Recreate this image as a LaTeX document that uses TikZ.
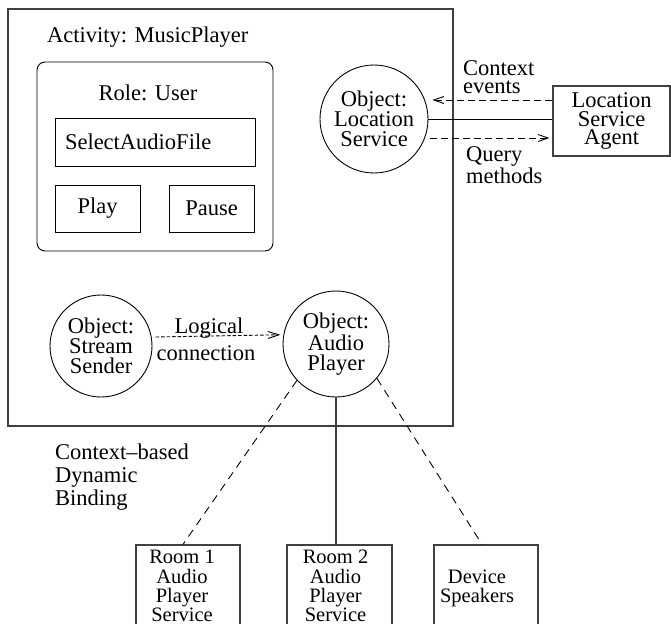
\documentclass[tikz,border=0pt]{standalone}
\usepackage{fontspec}
\setmainfont{Liberation Serif}
\usetikzlibrary{arrows.meta}
\begin{document}
\begin{tikzpicture}[x=1pt,y=-1pt,
  txt/.style={font=\fontsize{22.5}{19}\selectfont, inner sep=0pt},
  roomtxt/.style={font=\fontsize{20.5}{19.3}\selectfont, inner sep=0pt, align=center},
  frame/.style={draw=black!75, line width=1.2pt, inner sep=0pt},
  thinbox/.style={draw, line width=0.9pt, inner sep=0pt},
  obj/.style={draw, circle, line width=0.9pt, inner sep=0pt, align=center,
    font=\fontsize{22.5}{20}\selectfont},
  link/.style={line width=0.9pt},
  barb/.style={-{Straight Barb[length=10pt,width=7pt]}},
  evt/.style={link, dash pattern=on 7pt off 4pt},
  logic/.style={link, dash pattern=on 3.5pt off 2pt},
  bind/.style={link, dash pattern=on 8pt off 6pt},
]
\useasboundingbox (0,0) rectangle (671,623);
\clip (0,0) rectangle (671,623);

% activity frame and its title
\node[frame, minimum width=445pt, minimum height=417pt] (activity) at (230.5,217.5) {};
\node[txt, anchor=base west] (acttitle) at (47,43) {Activity: MusicPlayer};

% role with its operations
\node[thinbox, rounded corners=8pt, minimum width=236pt, minimum height=189pt] (role) at (155,156.5) {};
\node[txt, anchor=base] (roletitle) at (148,100) {Role: User};
\node[thinbox, txt, minimum width=200pt, minimum height=48pt, text width=180pt,
  inner xsep=10pt, align=left] (select) at (155,142) {SelectAudioFile};
\node[thinbox, txt, minimum width=85pt, minimum height=47pt] (play) at (97.5,208.5) {Play};
\node[thinbox, txt, minimum width=85pt, minimum height=47pt] (pause) at (211.5,208.5) {Pause};

% objects
\node[obj, minimum size=108pt] (loc) at (374,119) {Object:\\Location\\Service};
\node[obj, minimum size=102pt] (stream) at (101,346) {Object:\\Stream\\Sender};
\node[obj, minimum size=106pt] (audio) at (336,344) {Object:\\Audio\\Player};

% location agent
\node[frame, txt, align=center, font=\fontsize{22.5}{18.5}\selectfont,
  minimum width=117pt, minimum height=70pt] (agent) at (611.5,121) {Location\\Service\\Agent};

\coordinate (ctxin) at ([yshift=21pt]agent.west);
\coordinate (qryout) at ([yshift=-17pt]agent.west);
\draw[link] (loc.east) -- (loc.east -| agent.west);
\draw[evt, barb, shorten >=4pt] (ctxin) -- (ctxin -| loc.east);
\draw[evt, barb, shorten <=2pt, shorten >=3pt] (qryout -| loc.east) -- (qryout);
\node[txt, anchor=north west, align=left, font=\fontsize{22.5}{18}\selectfont]
  (ctxlabel) at (463,60.8) {Context\\events};
\node[txt, anchor=north west, align=left, font=\fontsize{22.5}{16.5}\selectfont]
  (qrylabel) at (466,146.8) {Query\\methods};

% logical connection
\draw[logic, -{Straight Barb[length=11pt,width=7pt]}, shorten <=4pt, shorten >=3pt]
  (stream.10) -- (audio.170);
\node[txt, anchor=base] (logical) at (209,333) {Logical};
\node[txt, anchor=base] (connection) at (206,360) {connection};

% binding targets
\node[frame, minimum width=104pt, minimum height=100pt] (room1) at (188,595) {};
\node[frame, minimum width=105pt, minimum height=100pt] (room2) at (339.5,595) {};
\node[frame, minimum width=104pt, minimum height=100pt] (dev) at (486,595) {};
\node[roomtxt, anchor=north] (room1txt) at (182,550) {Room 1\\Audio\\Player\\Service};
\node[roomtxt, anchor=north] (room2txt) at (335.5,550) {Room 2\\Audio\\Player\\Service};
\node[roomtxt, anchor=north] (devtxt) at (477,569.4) {Device\\Speakers};

\node[txt, anchor=north west, align=left, font=\fontsize{22.5}{23}\selectfont]
  (bindlabel) at (55,443.8) {Context--based\\Dynamic\\Binding};

\draw[link, draw=black!75, line width=1.2pt] (audio.south) -- (audio.south |- room2.north);
\draw[bind] (audio.223) -- ([xshift=-5pt]room1.north);
\draw[bind] (audio.-40) -- ([xshift=-4pt]dev.north);
\end{tikzpicture}
\end{document}
